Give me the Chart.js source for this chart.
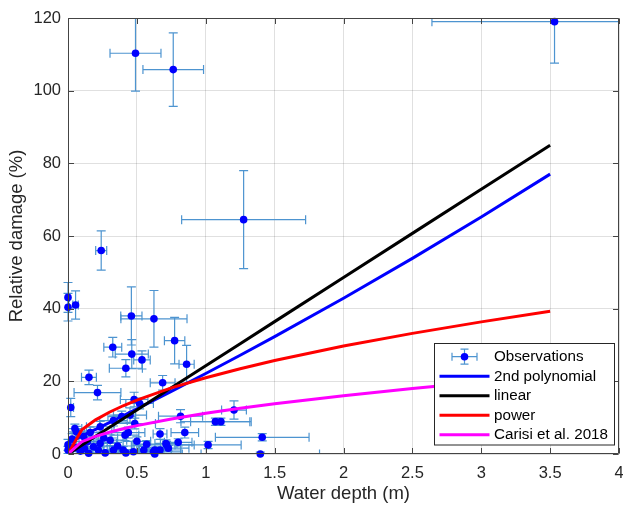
<!DOCTYPE html>
<html>
<head>
<meta charset="utf-8">
<script src="https://cdn.jsdelivr.net/npm/chart.js@4"></script>
<style>
  html, body { margin: 0; padding: 0; background: #ffffff; }
  #wrap { width: 623px; height: 507px; }
</style>
</head>
<body>
<div id="wrap"><canvas id="c" width="623" height="507"></canvas></div>
<script>
// ---------------- DATA ----------------
const xTicks = [0, 0.5, 1, 1.5, 2, 2.5, 3, 3.5, 4];
const yTicks = [0, 20, 40, 60, 80, 100, 120];

// Observations (water depth m, relative damage %) with error half-widths
const obsX    = [0.49, 0.764, 1.275, 0.241, 3.532, 0.0, 0.0, 0.055, 0.46, 0.624, 0.774, 0.861, 0.325, 0.463, 0.537, 0.42, 0.152, 0.687, 0.214, 0.02, 0.48, 0.52, 0.817, 1.205, 1.07, 1.11, 1.41, 1.396, 1.017, 0.848, 0.668, 0.80, 0.711, 0.571, 0.63, 0.728, 0.63, 0.0, 0.0, 0.03, 0.06, 0.14, 0.185, 0.22, 0.233, 0.306, 0.33, 0.414, 0.438, 0.40, 0.475, 0.485, 0.55, 0.62, 0.668, 0.716, 0.33, 0.234, 0.161, 0.113, 0.45, 0.39, 0.09, 0.12, 0.27, 0.36, 0.5, 0.06, 0.15, 0.26, 0.42, 0.05];
const obsY    = [110.3, 105.8, 64.5, 56.0, 119.0, 43.1, 40.4, 41.0, 38.0, 37.2, 31.2, 24.7, 29.4, 27.5, 25.9, 23.6, 21.1, 19.6, 16.9, 12.8, 15.0, 13.9, 10.4, 12.1, 8.9, 8.9, 4.6, 0.0, 2.5, 5.9, 5.5, 3.2, 2.9, 2.7, 1.1, 1.6, 0.0, 1.1, 2.5, 4.1, 6.1, 3.4, 2.0, 1.1, 2.9, 3.8, 1.1, 5.2, 5.9, 1.1, 0.6, 8.4, 1.1, 0.6, 1.1, 2.5, 9.2, 7.5, 5.9, 4.8, 10.7, 10.3, 0.8, 1.5, 0.3, 2.2, 3.5, 1.7, 0.2, 4.4, 0.3, 7.0];
const obsXErr = [0.185, 0.22, 0.45, 0.04, 0.89, 0.01, 0.01, 0.02, 0.077, 0.24, 0.074, 0.055, 0.065, 0.12, 0.06, 0.12, 0.054, 0.09, 0.17, 0.02, 0.1, 0.1, 0.16, 0.09, 0.25, 0.22, 0.34, 0.43, 0.24, 0.1, 0.05, 0.1, 0.08, 0.1, 0.12, 0.15, 0.2, 0.02, 0.03, 0.05, 0.06, 0.08, 0.1, 0.1, 0.12, 0.12, 0.15, 0.1, 0.12, 0.1, 0.15, 0.15, 0.2, 0.2, 0.15, 0.2, 0.1, 0.1, 0.08, 0.06, 0.12, 0.1, 0.05, 0.06, 0.1, 0.1, 0.1, 0.04, 0.07, 0.1, 0.12, 0.05];
const obsYErr = [10.4, 10.1, 13.5, 5.4, 11.4, 4.1, 3.8, 3.9, 8.0, 7.8, 6.4, 5.2, 2.7, 4.0, 2.5, 2.4, 2.0, 2.0, 2.0, 2.5, 2.0, 1.5, 1.8, 2.5, 1.0, 1.0, 1.0, 0.5, 1.0, 1.5, 1.5, 1.0, 1.0, 1.0, 0.8, 0.8, 0.5, 1.0, 1.5, 1.5, 1.5, 1.5, 1.0, 1.0, 1.2, 1.5, 1.0, 1.5, 1.5, 1.0, 0.6, 1.5, 1.0, 0.6, 0.8, 1.0, 1.5, 1.5, 1.5, 1.5, 2.0, 1.5, 0.8, 1.0, 0.5, 1.0, 1.2, 1.0, 0.4, 1.2, 0.5, 1.2];

// Fitted curves, sampled along water depth
const curveX   = [0, 0.1, 0.2, 0.3, 0.4, 0.5, 0.75, 1, 1.25, 1.5, 2, 2.5, 3, 3.5];
const polyY    = [3.1, 4.93, 6.78, 8.64, 10.52, 12.42, 17.24, 22.16, 27.18, 32.31, 42.86, 53.84, 65.22, 77.03];
const linearY  = [0, 2.43, 4.86, 7.29, 9.72, 12.14, 18.22, 24.29, 30.36, 36.43, 48.57, 60.72, 72.86, 85.0];
const powerY   = [0, 6.64, 9.39, 11.50, 13.28, 14.85, 18.19, 21.0, 23.48, 25.72, 29.70, 33.20, 36.37, 39.29];
const carisiY  = [0, 3.38, 4.85, 5.99, 6.95, 7.81, 9.64, 11.2, 12.58, 13.83, 16.06, 18.04, 19.83, 21.48];

const seriesLabels = ['Observations', '2nd polynomial', 'linear', 'power', 'Carisi et al. 2018'];

// ---------------- STYLE ----------------
const FONT = '"Liberation Sans", Arial, Helvetica, sans-serif';
const TEXT = '#262626';
const ERR_COLOR = '#4d94d0';
const MARK_COLOR = '#0000ff';
const lineColors = ['#0000ff', '#000000', '#ff0000', '#ff00ff'];

const toPts = (xs, ys) => xs.map((x, i) => ({ x: x, y: ys[i] }));

// Error bars, drawn beneath markers
const errorBarPlugin = {
  id: 'errorBars',
  beforeDatasetsDraw(chart) {
    const { ctx, chartArea: a } = chart;
    const xs = chart.scales.x, ys = chart.scales.y;
    const cap = 4.5;
    ctx.save();
    ctx.beginPath();
    ctx.rect(a.left - 6, a.top, a.right - a.left + 6, a.bottom - a.top);
    ctx.clip();
    ctx.strokeStyle = ERR_COLOR;
    ctx.lineWidth = 1.2;
    for (let i = 0; i < obsX.length; i++) {
      const px = xs.getPixelForValue(obsX[i]);
      const py = ys.getPixelForValue(obsY[i]);
      const x0 = Math.max(a.left, xs.getPixelForValue(obsX[i] - obsXErr[i]));
      const x1 = Math.min(a.right, xs.getPixelForValue(obsX[i] + obsXErr[i]));
      const y0 = ys.getPixelForValue(obsY[i] - obsYErr[i]);
      const y1 = Math.max(a.top, ys.getPixelForValue(obsY[i] + obsYErr[i]));
      ctx.beginPath();
      ctx.moveTo(x0, py); ctx.lineTo(x1, py);
      if (x0 > a.left + 0.5) { ctx.moveTo(x0, py - cap); ctx.lineTo(x0, py + cap); }
      if (x1 < a.right - 0.5) { ctx.moveTo(x1, py - cap); ctx.lineTo(x1, py + cap); }
      ctx.moveTo(px, y0); ctx.lineTo(px, y1);
      ctx.moveTo(px - cap, y0); ctx.lineTo(px + cap, y0);
      if (y1 > a.top + 0.5) { ctx.moveTo(px - cap, y1); ctx.lineTo(px + cap, y1); }
      ctx.stroke();
    }
    ctx.restore();
  }
};

// Axes box, inward ticks and the legend
const boxLegendPlugin = {
  id: 'boxLegend',
  afterDraw(chart) {
    const { ctx, chartArea: a } = chart;
    const xs = chart.scales.x, ys = chart.scales.y;
    ctx.save();
    ctx.strokeStyle = '#444444';
    ctx.lineWidth = 1;
    const L = Math.round(a.left) + 0.5, R = Math.round(a.right) - 0.5;
    const T = Math.round(a.top) + 0.5, B = Math.round(a.bottom) - 0.5;
    ctx.beginPath();
    ctx.rect(L, T, R - L, B - T);
    ctx.stroke();
    const tl = 5.5;
    ctx.beginPath();
    xTicks.forEach(v => {
      const px = Math.round(xs.getPixelForValue(v)) + 0.5;
      ctx.moveTo(px, B); ctx.lineTo(px, B - tl);
      ctx.moveTo(px, T); ctx.lineTo(px, T + tl);
    });
    yTicks.forEach(v => {
      const py = Math.round(ys.getPixelForValue(v)) + 0.5;
      ctx.moveTo(L, py); ctx.lineTo(L + tl, py);
      ctx.moveTo(R, py); ctx.lineTo(R - tl, py);
    });
    ctx.stroke();

    // Legend
    const lx = 434.5, ly = 343.5, lw = 180, lh = 101.5;
    ctx.fillStyle = '#ffffff';
    ctx.fillRect(lx, ly, lw, lh);
    ctx.strokeStyle = '#262626';
    ctx.lineWidth = 1;
    ctx.strokeRect(lx, ly, lw, lh);
    const rowY = [356.7, 376.2, 395.7, 415.2, 434.7];
    const sx0 = 439.5, sx1 = 489.5, tx = 494;
    ctx.font = '15.2px ' + FONT;
    ctx.textBaseline = 'middle';
    ctx.textAlign = 'left';
    chart.data.datasets.forEach(ds => {
      const r = ds.legendRow;
      const y = rowY[r];
      if (r === 0) {
        const cx = 464.5, c = 4;
        ctx.strokeStyle = ERR_COLOR;
        ctx.lineWidth = 1.2;
        ctx.beginPath();
        ctx.moveTo(452, y); ctx.lineTo(477, y);
        ctx.moveTo(452, y - c); ctx.lineTo(452, y + c);
        ctx.moveTo(477, y - c); ctx.lineTo(477, y + c);
        ctx.moveTo(cx, y - 7.5); ctx.lineTo(cx, y + 7.5);
        ctx.moveTo(cx - c, y - 7.5); ctx.lineTo(cx + c, y - 7.5);
        ctx.moveTo(cx - c, y + 7.5); ctx.lineTo(cx + c, y + 7.5);
        ctx.stroke();
        ctx.fillStyle = MARK_COLOR;
        ctx.beginPath();
        ctx.arc(cx, y, 3.8, 0, Math.PI * 2);
        ctx.fill();
      } else {
        ctx.strokeStyle = ds.borderColor;
        ctx.lineWidth = 3;
        ctx.beginPath();
        ctx.moveTo(sx0, y); ctx.lineTo(sx1, y);
        ctx.stroke();
      }
      ctx.fillStyle = '#000000';
      ctx.fillText(ds.label, tx, y + 0.5);
    });
    ctx.restore();
  }
};

const lineDataset = (label, ys, color, order, row) => ({
  type: 'scatter',
  label: label,
  data: toPts(curveX, ys),
  showLine: true,
  borderColor: color,
  backgroundColor: color,
  borderWidth: 3,
  pointRadius: 0,
  pointHoverRadius: 0,
  tension: 0,
  order: order,
  legendRow: row
});

new Chart(document.getElementById('c'), {
  type: 'scatter',
  data: {
    datasets: [
      {
        label: seriesLabels[0],
        data: toPts(obsX, obsY),
        showLine: false,
        pointRadius: 3.8,
        pointBackgroundColor: MARK_COLOR,
        pointBorderColor: MARK_COLOR,
        pointBorderWidth: 0,
        clip: 8,
        order: 5,
        legendRow: 0
      },
      lineDataset(seriesLabels[1], polyY, lineColors[0], 4, 1),
      lineDataset(seriesLabels[2], linearY, lineColors[1], 3, 2),
      lineDataset(seriesLabels[3], powerY, lineColors[2], 2, 3),
      lineDataset(seriesLabels[4], carisiY, lineColors[3], 1, 4)
    ]
  },
  options: {
    responsive: false,
    animation: false,
    devicePixelRatio: 1,
    layout: { padding: { left: 0, right: 2, top: 18, bottom: 0 } },
    plugins: {
      legend: { display: false },
      tooltip: { enabled: false }
    },
    scales: {
      x: {
        type: 'linear',
        min: 0, max: 4,
        afterBuildTicks: s => { s.ticks = xTicks.map(v => ({ value: v })); },
        afterFit: s => { s.height = 53; s.paddingLeft = 0; s.paddingRight = 0; },
        grid: { color: 'rgba(0,0,0,0.12)', lineWidth: 1, drawTicks: false },
        border: { display: false },
        ticks: { color: TEXT, font: { family: FONT, size: 16.5 }, padding: 10, maxRotation: 0, autoSkip: false,
                 callback: v => String(v) },
        title: { display: true, text: 'Water depth (m)', color: TEXT, font: { family: FONT, size: 18.5 }, padding: { top: 0, bottom: 2 } }
      },
      y: {
        type: 'linear',
        min: 0, max: 120,
        afterBuildTicks: s => { s.ticks = yTicks.map(v => ({ value: v })); },
        afterFit: s => { s.width = 68; s.paddingTop = 0; s.paddingBottom = 0; },
        grid: { color: 'rgba(0,0,0,0.12)', lineWidth: 1, drawTicks: false },
        border: { display: false },
        ticks: { color: TEXT, font: { family: FONT, size: 16.5 }, padding: 7, autoSkip: false,
                 callback: v => String(v) },
        title: { display: true, text: 'Relative damage (%)', color: TEXT, font: { family: FONT, size: 18.5 }, padding: { top: 6, bottom: 0 } }
      }
    }
  },
  plugins: [errorBarPlugin, boxLegendPlugin]
});
</script>
</body>
</html>
